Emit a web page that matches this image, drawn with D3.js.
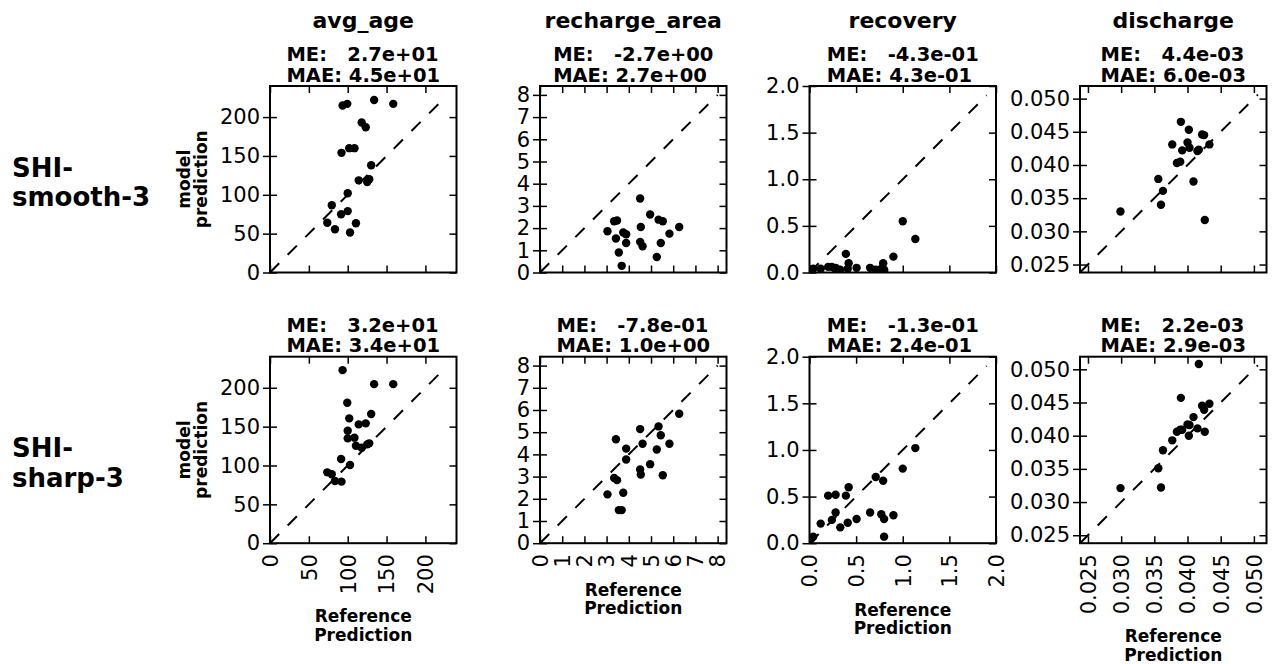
<!DOCTYPE html>
<html>
<head>
<meta charset="utf-8">
<script src="https://cdn.jsdelivr.net/npm/d3@7"></script>
<style>
  body { margin: 0; background: #fff; }
  svg { display: block; font-family: "DejaVu Sans", sans-serif; }
</style>
</head>
<body>
<svg width="1277" height="664"></svg>
<script>
// column names and row names
var columns = ['avg_age', 'recharge_area', 'recovery', 'discharge'];
var rowNames = [['SHI-', 'smooth-3'], ['SHI-', 'sharp-3']];

// error stats shown above each panel
var meText = [['2.7e+01', '-2.7e+00', '-4.3e-01', '4.4e-03'],
              ['3.2e+01', '-7.8e-01', '-1.3e-01', '2.2e-03']];
var maeText = [['4.5e+01', '2.7e+00', '4.3e-01', '6.0e-03'],
               ['3.4e+01', '1.0e+00', '2.4e-01', '2.9e-03']];

// axis limits, ticks, end of the 1:1 line
var domains = [[0, 240], [0, 8.4], [0, 2.0], [0.0238, 0.0519]];
var ticks = [[0, 50, 100, 150, 200],
             [0, 1, 2, 3, 4, 5, 6, 7, 8],
             [0, 0.5, 1.0, 1.5, 2.0],
             [0.025, 0.030, 0.035, 0.040, 0.045, 0.050]];
var tickFormats = ['d', 'd', '.1f', '.3f'];
var diagEnd = [227, 8.0, 1.9, 0.0506];

// reference predictions (x), shared by both rows
var avgAgeRef = [73.7, 79.5, 83.6, 91.5, 92, 93.4, 99.4, 100, 100, 102, 103, 108.7, 110.6, 114.2, 118, 123.2, 125.1, 127.7, 130.2, 134, 158.6];
var rechargeRef = [3.04, 3.34, 3.42, 3.47, 3.55, 3.68, 3.75, 3.88, 3.88, 4.51, 4.51, 4.54, 4.62, 4.96, 5.26, 5.34, 5.44, 5.53, 5.83, 6.27];
var recoveryRef = [0.02, 0.04, 0.12, 0.20, 0.24, 0.28, 0.28, 0.33, 0.39, 0.41, 0.42, 0.505, 0.65, 0.71, 0.77, 0.79, 0.80, 0.80, 0.90, 1.00, 1.135];
var dischargeRef = [0.0299, 0.0356, 0.0360, 0.0363, 0.0377, 0.0384, 0.0389, 0.0390, 0.0392, 0.0400, 0.0402, 0.0403, 0.0409, 0.0415, 0.0417, 0.0422, 0.0425, 0.0426, 0.0433];

// model predictions (y), SHI-smooth-3
var avgAgeSmooth = [64, 86.5, 55.7, 75, 154, 215, 217, 102, 79, 160, 51.4, 160, 63.4, 118.6, 193, 187, 116.5, 120, 138, 222, 217];
var rechargeSmooth = [1.86, 2.31, 1.53, 2.34, 0.90, 0.30, 1.80, 1.72, 1.33, 3.33, 1.38, 2.05, 1.18, 2.61, 0.70, 2.38, 1.33, 2.31, 1.75, 2.05];
var recoverySmooth = [0.03, 0.04, 0.04, 0.06, 0.06, 0.05, 0.03, 0.03, 0.20, 0.04, 0.10, 0.05, 0.05, 0.03, 0.04, 0.10, 0.03, 0.02, 0.17, 0.55, 0.36];
var dischargeSmooth = [0.0330, 0.0379, 0.0340, 0.0361, 0.0431, 0.0403, 0.0405, 0.0465, 0.0422, 0.0434, 0.0453, 0.0426, 0.0375, 0.0421, 0.0423, 0.0446, 0.0445, 0.0317, 0.0431];

// model predictions (y), SHI-sharp-3
var avgAgeSharp = [91.2, 88.7, 80.1, 108.4, 79.2, 222.7, 180.7, 144.8, 134.9, 160.6, 100.6, 135.8, 125.5, 152.9, 122.9, 154.2, 127.2, 128.5, 166.2, 204.7, 204.7];
var rechargeSharp = [2.20, 2.94, 4.68, 2.84, 1.49, 1.49, 2.27, 3.77, 4.26, 5.14, 3.32, 3.09, 4.48, 3.56, 4.22, 5.26, 4.86, 3.06, 4.48, 5.83];
var recoverySharp = [0.05, 0.07, 0.21, 0.51, 0.25, 0.52, 0.33, 0.17, 0.51, 0.22, 0.60, 0.26, 0.33, 0.71, 0.31, 0.67, 0.26, 0.07, 0.30, 0.80, 1.02];
var dischargeSharp = [0.0321, 0.0351, 0.0322, 0.0378, 0.0393, 0.0406, 0.0409, 0.0457, 0.0409, 0.0417, 0.0400, 0.0416, 0.0428, 0.0411, 0.0508, 0.0445, 0.0439, 0.0406, 0.0448];

var refs = [avgAgeRef, rechargeRef, recoveryRef, dischargeRef];
var preds = [[avgAgeSmooth, rechargeSmooth, recoverySmooth, dischargeSmooth],
             [avgAgeSharp, rechargeSharp, recoverySharp, dischargeSharp]];

// layout
var colX = [270, 540, 809.5, 1080];
var rowY = [86, 356.7];
var size = 186.5;
var rowLabelY = [176.5, 457];

var svg = d3.select('svg');

function panel(r, c){
    var g = svg.append('g').attr('transform', 'translate(' + colX[c] + ',' + rowY[r] + ')');
    var x = d3.scaleLinear().domain(domains[c]).range([0, size]);
    var y = d3.scaleLinear().domain(domains[c]).range([size, 0]);
    var fmt = d3.format(tickFormats[c]);

    var clipId = 'clip' + r + c;
    g.append('clipPath').attr('id', clipId)
        .append('rect').attr('width', size).attr('height', size);

    // 1:1 dashed line
    var d0 = domains[c][0];
    g.append('line')
        .attr('clip-path', 'url(#' + clipId + ')')
        .attr('x1', x(d0)).attr('y1', y(d0))
        .attr('x2', x(diagEnd[c])).attr('y2', y(diagEnd[c]))
        .attr('stroke', '#000')
        .attr('stroke-width', 2)
        .attr('stroke-dasharray', '13,12');

    var data = refs[c].map(function(v, i){ return [v, preds[r][c][i]]; });
    g.append('g').attr('clip-path', 'url(#' + clipId + ')')
        .selectAll('circle').data(data)
        .enter()
        .append('circle')
            .attr('cx', function(d){ return x(d[0]); })
            .attr('cy', function(d){ return y(d[1]); })
            .attr('r', 4.2)
            .attr('fill', '#000');

    // axes, ticks pointing inward (left ones cross the spine)
    g.append('g').call(d3.axisLeft(y).tickValues(ticks[c]).tickSize(7).tickPadding(3).tickFormat(fmt));
    g.append('g').call(d3.axisLeft(y).tickValues(ticks[c]).tickSize(-7).tickFormat(''));
    g.append('g').attr('transform', 'translate(' + size + ',0)')
        .call(d3.axisRight(y).tickValues(ticks[c]).tickSize(-7).tickFormat(''));
    g.append('g').call(d3.axisTop(x).tickValues(ticks[c]).tickSize(-7).tickFormat(''));
    var bottom = g.append('g').attr('transform', 'translate(0,' + size + ')')
        .call(d3.axisBottom(x).tickValues(ticks[c]).tickSize(-7).tickFormat(r == 1 ? fmt : ''));

    g.selectAll('.domain').remove();
    g.selectAll('.tick line').attr('stroke', '#000').attr('stroke-width', 1.5);
    g.selectAll('.tick text')
        .attr('fill', '#000')
        .style('font-size', '21px')
        .style('font-family', '"DejaVu Sans", sans-serif');

    if (r == 1){
        bottom.selectAll('.tick text')
            .attr('transform', 'rotate(-90)')
            .attr('text-anchor', 'end')
            .attr('x', -11)
            .attr('y', 0)
            .attr('dy', '0.35em');
        var bb = bottom.node().getBBox();
        var ly = size + bb.y + bb.height + 28;
        var xl = g.append('text')
            .attr('text-anchor', 'middle')
            .style('font-size', '17px')
            .style('font-weight', 'bold');
        xl.append('tspan').attr('x', size / 2).attr('y', ly).text('Reference');
        xl.append('tspan').attr('x', size / 2).attr('y', ly + 18.5).text('Prediction');
    }

    // frame
    g.append('rect')
        .attr('width', size).attr('height', size)
        .attr('fill', 'none')
        .attr('stroke', '#000')
        .attr('stroke-width', 2);

    // ME / MAE block, left aligned lines, block centred
    var t1 = g.append('text').attr('y', -25).style('white-space', 'pre')
        .style('font-size', '19.5px').style('font-weight', 'bold')
        .text('ME:   ' + meText[r][c]);
    var t2 = g.append('text').attr('y', -4.5).style('white-space', 'pre')
        .style('font-size', '19.5px').style('font-weight', 'bold')
        .text('MAE: ' + maeText[r][c]);
    var w = Math.max(t1.node().getComputedTextLength(), t2.node().getComputedTextLength());
    t1.attr('x', size / 2 - w / 2);
    t2.attr('x', size / 2 - w / 2);

    if (c == 0){
        var yl = g.append('text')
            .attr('transform', 'rotate(-90)')
            .attr('text-anchor', 'middle')
            .style('font-size', '17px')
            .style('font-weight', 'bold');
        yl.append('tspan').attr('x', -size / 2).attr('y', 190 - colX[0]).text('model');
        yl.append('tspan').attr('x', -size / 2).attr('y', 207 - colX[0]).text('prediction');
    }
}

for (var r = 0; r < 2; r++){
    for (var c = 0; c < 4; c++){
        panel(r, c);
    }
}

// column titles
svg.selectAll('text.coltitle').data(columns)
    .enter()
    .append('text')
        .attr('class', 'coltitle')
        .attr('x', function(d, i){ return colX[i] + size / 2; })
        .attr('y', 28)
        .attr('text-anchor', 'middle')
        .style('font-size', '22px')
        .style('font-weight', 'bold')
        .text(function(d){ return d; });

// row labels
rowNames.forEach(function(lines, i){
    var t = svg.append('text')
        .style('font-size', '26px')
        .style('font-weight', 'bold');
    t.append('tspan').attr('x', 12).attr('y', rowLabelY[i]).text(lines[0]);
    t.append('tspan').attr('x', 12).attr('y', rowLabelY[i] + 29.5).text(lines[1]);
});
</script>
</body>
</html>
